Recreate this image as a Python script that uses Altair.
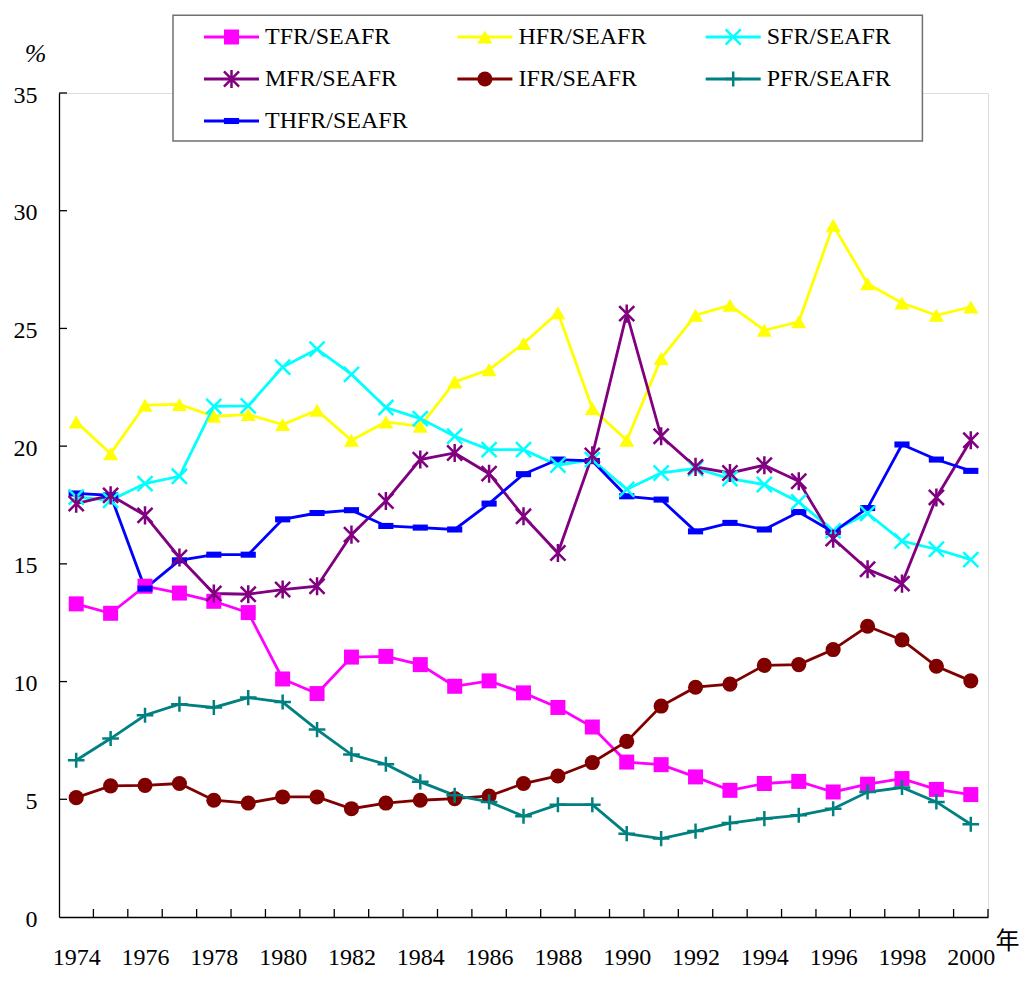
import altair as alt
import pandas as pd

years = list(range(1974, 2001))
series_names = ["TFR/SEAFR", "HFR/SEAFR", "SFR/SEAFR", "MFR/SEAFR",
                "IFR/SEAFR", "PFR/SEAFR", "THFR/SEAFR"]

tfr = [13.3, 12.9, 14.05, 13.76, 13.41, 12.93, 10.11, 9.49, 11.04, 11.07, 10.72, 9.80, 10.03,
       9.52, 8.90, 8.07, 6.58, 6.47, 5.95, 5.38, 5.67, 5.76, 5.31, 5.64, 5.88, 5.42, 5.20]
hfr = [21.03, 19.68, 21.74, 21.77, 21.27, 21.34, 20.92, 21.52, 20.25, 21.03, 20.84, 22.73, 23.25,
       24.36, 25.67, 21.60, 20.25, 23.72, 25.56, 25.98, 24.92, 25.28, 29.38, 26.90, 26.08, 25.56, 25.91]
sfr = [17.84, 17.70, 18.41, 18.72, 21.69, 21.71, 23.36, 24.12, 23.05, 21.64, 21.17, 20.42, 19.85,
       19.85, 19.19, 19.43, 18.16, 18.86, 19.05, 18.62, 18.37, 17.63, 16.40, 17.14, 15.97, 15.62, 15.18]
mfr = [17.56, 17.91, 17.06, 15.27, 13.74, 13.71, 13.91, 14.05, 16.24, 17.67, 19.43, 19.71, 18.83,
       17.02, 15.46, 19.61, 25.63, 20.42, 19.12, 18.86, 19.19, 18.51, 16.07, 14.77, 14.16, 17.82, 20.25]
ifr = [5.07, 5.57, 5.59, 5.67, 4.96, 4.84, 5.10, 5.10, 4.60, 4.84, 4.96, 5.03, 5.14,
       5.67, 5.99, 6.56, 7.46, 8.96, 9.76, 9.89, 10.69, 10.72, 11.36, 12.35, 11.77, 10.65, 10.03]
pfr = [6.66, 7.58, 8.57, 9.04, 8.90, 9.32, 9.13, 7.96, 6.90, 6.49, 5.74, 5.17, 4.89,
       4.28, 4.77, 4.77, 3.54, 3.33, 3.65, 3.99, 4.18, 4.32, 4.60, 5.31, 5.50, 4.89, 3.94]
thfr = [17.99, 17.91, 13.95, 15.15, 15.39, 15.39, 16.89, 17.16, 17.28, 16.61, 16.54, 16.46, 17.56,
        18.81, 19.43, 19.37, 17.87, 17.73, 16.38, 16.74, 16.46, 17.20, 16.35, 17.37, 20.07, 19.43, 18.95]

y_ticks = [0, 5, 10, 15, 20, 25, 30, 35]
x_labels = list(range(1974, 2001, 2))

colors = ["#FF00FF", "#FFFF00", "#00FFFF", "#800080", "#800000", "#008080", "#0000FF"]
X_PATH = "M-1,-1L1,1M-1,1L1,-1"
AST_PATH = "M-1,-1L1,1M-1,1L1,-1M0,-1.2L0,1.2"
PLUS_PATH = "M-1.1,0L1.1,0M0,-1L0,1"
DASH_PATH = "M-1,-0.4L1,-0.4L1,0.4L-1,0.4Z"
shapes = ["square", "triangle-up", X_PATH, AST_PATH, "circle", PLUS_PATH, DASH_PATH]
sizes = [225, 230, 200, 220, 165, 240, 64]
filled_series = ["TFR/SEAFR", "HFR/SEAFR", "IFR/SEAFR", "THFR/SEAFR"]
stroked_series = ["SFR/SEAFR", "MFR/SEAFR", "PFR/SEAFR"]

all_vals = [tfr, hfr, sfr, mfr, ifr, pfr, thfr]
rows = []
for name, vals in zip(series_names, all_vals):
    for yr, v in zip(years, vals):
        rows.append({"year": yr, "value": v, "series": name})
df = pd.DataFrame(rows)

W, H = 929, 824
FONT = "Liberation Serif"

color_enc = alt.Color("series:N", scale=alt.Scale(domain=series_names, range=colors), legend=None)
shape_enc = alt.Shape("series:N", scale=alt.Scale(domain=series_names, range=shapes), legend=None)
size_enc = alt.Size("series:N", scale=alt.Scale(domain=series_names, range=sizes), legend=None)

x_enc = alt.X("year:Q",
              scale=alt.Scale(domain=[1973.5, 2000.5], nice=False, zero=False),
              axis=alt.Axis(values=x_labels, format="d", ticks=False, grid=False,
                            labelPadding=28, labelFont=FONT, labelFontSize=24, labelColor="black",
                            labelFlush=False, labelOverlap=False,
                            domainColor="black", domainWidth=1.3,
                            title="年", titleX=948, titleY=24, titleFont="Noto Sans CJK TC",
                            titleFontSize=24, titleFontWeight="normal", titleColor="black",
                            titleAlign="center", titleBaseline="middle"))
y_enc = alt.Y("value:Q",
              scale=alt.Scale(domain=[0, 35], nice=False, zero=True),
              axis=alt.Axis(values=y_ticks, ticks=False, grid=False,
                            labelPadding=22, labelFont=FONT, labelFontSize=24, labelColor="black",
                            labelOffset=2, labelFlush=False,
                            domainColor="black", domainWidth=1.3,
                            title="%", titleAngle=0, titleX=-24, titleY=-40, titleFont=FONT,
                            titleFontSize=26, titleFontWeight="normal", titleColor="black",
                            titleAlign="center", titleBaseline="middle", titleFontStyle="italic"))

base = alt.Chart(df)
lines = base.mark_line(strokeWidth=2.8).encode(x=x_enc, y=y_enc, color=color_enc, detail="series:N")
pts_filled = base.transform_filter(
    alt.FieldOneOfPredicate(field="series", oneOf=filled_series)
).mark_point(filled=True, opacity=1).encode(
    x="year:Q", y="value:Q", fill=color_enc, shape=shape_enc, size=size_enc)
pts_stroked = base.transform_filter(
    alt.FieldOneOfPredicate(field="series", oneOf=stroked_series)
).mark_point(filled=False, opacity=1, strokeWidth=2.5).encode(
    x="year:Q", y="value:Q", stroke=color_enc, shape=shape_enc, size=size_enc)

xt = pd.DataFrame({"year": [y + 0.5 for y in years]})
yt = pd.DataFrame({"value": y_ticks[1:]})
xticks = alt.Chart(xt).mark_rule(color="black", strokeWidth=1.3).encode(
    x="year:Q", y=alt.value(H), y2=alt.value(H - 8))
yticks = alt.Chart(yt).mark_rule(color="black", strokeWidth=1.3).encode(
    y="value:Q", x=alt.value(0), x2=alt.value(8))

main = alt.layer(lines, pts_filled, pts_stroked, xticks, yticks)

# legend (manual, Excel-like)
col_x = [145, 398.4, 646.7]
row_y = [-56, -14, 28]
leg_rows = []
for i, name in enumerate(series_names):
    cx = col_x[i % 3]
    ry = row_y[i // 3]
    leg_rows.append({"series": name, "lx1": cx, "lx2": cx + 55, "lxm": cx + 27.5,
                     "ltx": cx + 61, "ly": ry})
leg = pd.DataFrame(leg_rows)
lsx = alt.Scale(domain=[0, W], nice=False, zero=False)
lsy = alt.Scale(domain=[H, 0], nice=False, zero=False)

box = alt.Chart(pd.DataFrame({"a": [0]})).mark_rect(
    fill="white", stroke="#707070", strokeWidth=1.5).encode(
    x=alt.X(datum=114, scale=lsx, axis=None), x2=alt.X2(datum=863.4),
    y=alt.Y(datum=-77.7, scale=lsy, axis=None), y2=alt.Y2(datum=48))
leg_base = alt.Chart(leg)
leg_lines = leg_base.mark_rule(strokeWidth=2.8).encode(
    x=alt.X("lx1:Q", scale=lsx, axis=None), x2="lx2:Q",
    y=alt.Y("ly:Q", scale=lsy, axis=None), color=color_enc)
leg_pf = leg_base.transform_filter(
    alt.FieldOneOfPredicate(field="series", oneOf=filled_series)
).mark_point(filled=True, opacity=1).encode(
    x=alt.X("lxm:Q", scale=lsx, axis=None), y=alt.Y("ly:Q", scale=lsy, axis=None),
    fill=color_enc, shape=shape_enc, size=size_enc)
leg_ps = leg_base.transform_filter(
    alt.FieldOneOfPredicate(field="series", oneOf=stroked_series)
).mark_point(filled=False, opacity=1, strokeWidth=2.5).encode(
    x=alt.X("lxm:Q", scale=lsx, axis=None), y=alt.Y("ly:Q", scale=lsy, axis=None),
    stroke=color_enc, shape=shape_enc, size=size_enc)
leg_text = leg_base.mark_text(align="left", baseline="middle", font=FONT, fontSize=24,
                              color="black").encode(
    x=alt.X("ltx:Q", scale=lsx, axis=None), y=alt.Y("ly:Q", scale=lsy, axis=None),
    text="series:N")
legend = alt.layer(box, leg_lines, leg_pf, leg_ps, leg_text)

chart = alt.layer(main, legend).resolve_scale(x="independent", y="independent").properties(
    width=W, height=H,
    autosize=alt.AutoSizeParams(type="none"),
    padding={"left": 51, "top": 85, "right": 35, "bottom": 52},
).configure_view(stroke=None).configure(font=FONT, background="white")

chart.save("out.html", embed_options={"renderer": "svg", "actions": False})
